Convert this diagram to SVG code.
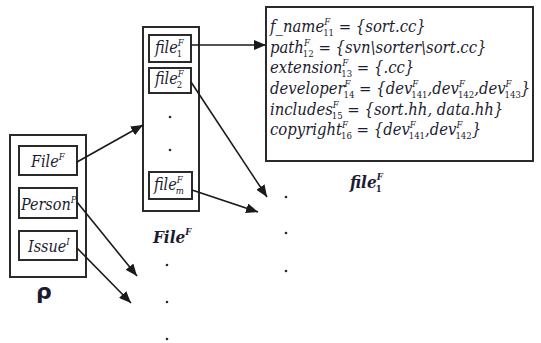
<svg xmlns="http://www.w3.org/2000/svg" width="541" height="343" viewBox="0 0 541 343">
  <defs>
    <style>
      .frame { fill: #fff; stroke: #2a2a2a; stroke-width: 2; }
      .cell { fill: #fff; stroke: #2a2a2a; stroke-width: 2; }
      .edge { fill: none; stroke: #1a1a1a; stroke-width: 1.6; marker-end: url(#head); }
      .math { font-family: "DejaVu Serif Condensed", "DejaVu Serif", serif; font-stretch: condensed; font-style: italic; font-size: 16px; fill: #1c1c30; }
      .attr { font-size: 16.5px; }
      .title { font-family: "DejaVu Serif Condensed", "DejaVu Serif", serif; font-stretch: condensed; font-style: italic; font-weight: bold; font-size: 17px; fill: #1c1c30; }
      .sup { font-size: 9.5px; }
      .sub { font-size: 9.5px; font-style: normal; }
      .dot { fill: #2a2a2a; }
    </style>
    <marker id="head" viewBox="0 0 12 10" refX="12" refY="5" markerWidth="12" markerHeight="10" markerUnits="userSpaceOnUse" orient="auto">
      <path d="M0,0 L12,5 L0,10 z" fill="#1a1a1a"/>
    </marker>
  </defs>

  <rect width="541" height="343" fill="#fff"/>

  <!-- repository: the three entity sets -->
  <g id="repo">
    <rect class="frame" x="10" y="135" width="76" height="142"/>
    <text x="36" y="299" style="font-family:'DejaVu Sans',sans-serif;font-weight:bold;font-size:22px;fill:#1c1c30">ρ</text>
  </g>
  <g id="set-file">
    <rect class="cell" x="19" y="146" width="58" height="29"/>
    <text class="math" x="31" y="167">File<tspan class="sup" dy="-7">F</tspan></text>
  </g>
  <g id="set-person">
    <rect class="cell" x="19" y="188" width="58" height="30"/>
    <text class="math" x="21" y="210">Person<tspan class="sup" dy="-7">P</tspan></text>
  </g>
  <g id="set-issue">
    <rect class="cell" x="19" y="231" width="58" height="29"/>
    <text class="math" x="28" y="252">Issue<tspan class="sup" dy="-7">I</tspan></text>
  </g>

  <!-- file set and its members -->
  <g id="file-set">
    <rect class="frame" x="143" y="27" width="56" height="184"/>
    <circle class="dot" cx="170" cy="117" r="1.3"/>
    <circle class="dot" cx="170" cy="150" r="1.3"/>
    <text class="title" x="153" y="243">File<tspan class="sup" dy="-8">F</tspan></text>
  </g>
  <g id="file-1">
    <rect class="cell" x="149" y="35" width="42" height="27"/>
    <text class="math" x="155" y="53">file<tspan class="sup" dy="-7">F</tspan><tspan class="sub" dx="-7" dy="11">1</tspan></text>
  </g>
  <g id="file-2">
    <rect class="cell" x="149" y="68" width="42" height="25"/>
    <text class="math" x="155" y="84">file<tspan class="sup" dy="-7">F</tspan><tspan class="sub" dx="-7" dy="11">2</tspan></text>
  </g>
  <g id="file-m">
    <rect class="cell" x="149" y="172" width="43" height="27"/>
    <text class="math" x="154" y="190">file<tspan class="sup" dy="-7">F</tspan><tspan class="sub" dx="-7" dy="11" style="font-style:italic">m</tspan></text>
  </g>

  <!-- attributes of the first file -->
  <g id="file-1-attributes">
    <rect class="frame" x="266" y="7" width="267" height="154"/>
    <text class="math attr" x="270" y="32">f_name<tspan class="sup" dy="-7">F</tspan><tspan class="sub" dx="-7" dy="11">11</tspan><tspan dy="-4"> = {sort.cc}</tspan></text>
    <text class="math attr" x="270" y="52.5">path<tspan class="sup" dy="-7">F</tspan><tspan class="sub" dx="-7" dy="11">12</tspan><tspan dy="-4"> = {svn\sorter\sort.cc}</tspan></text>
    <text class="math attr" x="270" y="73">extension<tspan class="sup" dy="-7">F</tspan><tspan class="sub" dx="-7" dy="11">13</tspan><tspan dy="-4"> = {.cc}</tspan></text>
    <text class="math attr" x="270" y="94">developer<tspan class="sup" dy="-7">F</tspan><tspan class="sub" dx="-7" dy="11">14</tspan><tspan dy="-4"> = {dev</tspan><tspan class="sup" dy="-7">F</tspan><tspan class="sub" dx="-7" dy="11">141</tspan><tspan dy="-4">,dev</tspan><tspan class="sup" dy="-7">F</tspan><tspan class="sub" dx="-7" dy="11">142</tspan><tspan dy="-4">,dev</tspan><tspan class="sup" dy="-7">F</tspan><tspan class="sub" dx="-7" dy="11">143</tspan><tspan dy="-4">}</tspan></text>
    <text class="math attr" x="270" y="114.5">includes<tspan class="sup" dy="-7">F</tspan><tspan class="sub" dx="-7" dy="11">15</tspan><tspan dy="-4"> = {sort.hh, data.hh}</tspan></text>
    <text class="math attr" x="270" y="135">copyright<tspan class="sup" dy="-7">F</tspan><tspan class="sub" dx="-7" dy="11">16</tspan><tspan dy="-4"> = {dev</tspan><tspan class="sup" dy="-7">F</tspan><tspan class="sub" dx="-7" dy="11">141</tspan><tspan dy="-4">,dev</tspan><tspan class="sup" dy="-7">F</tspan><tspan class="sub" dx="-7" dy="11">142</tspan><tspan dy="-4">}</tspan></text>
    <text class="title" x="350" y="188">file<tspan class="sup" dy="-8">F</tspan><tspan class="sub" dx="-7" dy="12">1</tspan></text>
  </g>

  <!-- continuation dots -->
  <g id="ellipses">
    <circle class="dot" cx="167" cy="265" r="1.3"/>
    <circle class="dot" cx="167" cy="302" r="1.3"/>
    <circle class="dot" cx="167" cy="339" r="1.3"/>
    <circle class="dot" cx="286" cy="197" r="1.3"/>
    <circle class="dot" cx="286" cy="233" r="1.3"/>
    <circle class="dot" cx="286" cy="271" r="1.3"/>
  </g>

  <!-- connectors -->
  <g id="connectors">
    <line class="edge" x1="77" y1="162" x2="143" y2="125"/>
    <line class="edge" x1="77" y1="202" x2="137" y2="276"/>
    <line class="edge" x1="77" y1="248" x2="131" y2="303"/>
    <line class="edge" x1="191" y1="45" x2="266" y2="45"/>
    <line class="edge" x1="191" y1="82" x2="267" y2="197"/>
    <line class="edge" x1="192" y1="190" x2="258" y2="212"/>
  </g>
</svg>
